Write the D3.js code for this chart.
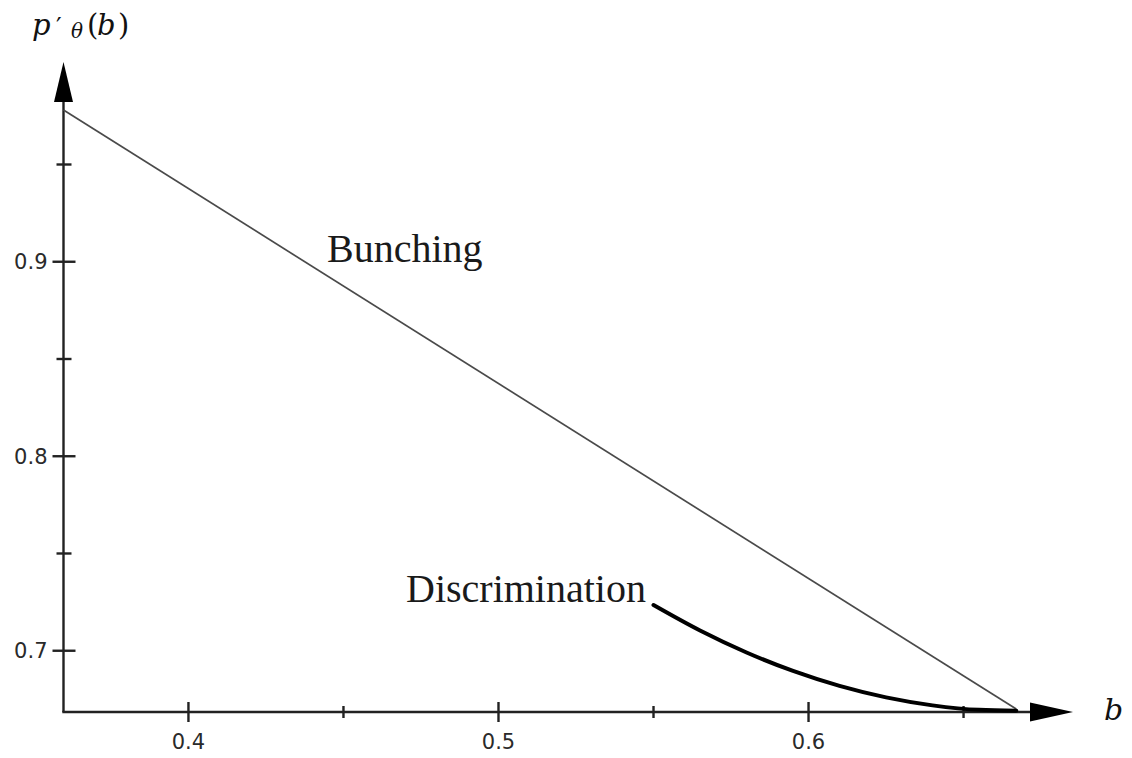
<!DOCTYPE html>
<html>
<head>
<meta charset="utf-8">
<script src="https://cdn.jsdelivr.net/npm/d3@7"></script>
<style>
  body { margin: 0; background: #fff; }
  .tic-label { font-family: 'DejaVu Sans', sans-serif; font-size: 21px; fill: #2a2a2a; }
  .curve-label { font-family: 'Liberation Serif', 'Times New Roman', serif; font-size: 40px; fill: #1a1a1a; }
  .math { font-family: 'DejaVu Serif', serif; font-style: italic; fill: #111; }
</style>
</head>
<body>
<div id="chart"></div>
<script>
/* Data ************************************************************************/

// axis extents (value at the axis origin and at the arrow tips)
var xExtent = [0.3597, 0.6853],
    yExtent = [0.6685, 1.0027];

// tick values and labels
var xMajor = [0.4, 0.5, 0.6],
    xMinor = [0.45, 0.55, 0.65],
    xLabels = ['0.4', '0.5', '0.6'],
    yMajor = [0.7, 0.8, 0.9],
    yMinor = [0.75, 0.85, 0.95],
    yLabels = ['0.7', '0.8', '0.9'];

// bunching: straight line
var bunchB = [0.3597, 0.667],
    bunchP = [0.978, 0.670];

// discrimination
var discB = [0.55, 0.565, 0.58, 0.595, 0.61, 0.625, 0.64, 0.655, 0.667],
    discP = [0.7235, 0.7104, 0.6991, 0.6896, 0.6819, 0.6760, 0.6719, 0.6696, 0.6692];

/* Plot ************************************************************************/

function build_plot()
{
    let width = 1132, height = 758;

    let svg = d3.select('#chart').append('svg')
        .attr('width', width)
        .attr('height', height);

    let x = d3.scaleLinear().domain(xExtent).range([63.5, 1073]),
        y = d3.scaleLinear().domain(yExtent).range([712, 62]),
        line = d3.line();

    let x0 = x(xExtent[0]), y0 = y(yExtent[0]),
        xTip = x(xExtent[1]), yTip = y(yExtent[1]),
        arrowLen = 40, arrowHalf = 9.5,
        axisColor = '#222';

    // axis lines
    svg.append('path')
        .attr('d', line([[x0, y0], [x0, yTip + arrowLen]]))
        .attr('stroke', axisColor).attr('stroke-width', 2.4).attr('fill', 'none');
    svg.append('path')
        .attr('d', line([[x0 - 1.2, y0], [xTip - arrowLen, y0]]))
        .attr('stroke', axisColor).attr('stroke-width', 2.4).attr('fill', 'none');

    // arrow heads
    svg.append('path')
        .attr('d', line([[x0, yTip], [x0 - arrowHalf, yTip + arrowLen], [x0 + arrowHalf, yTip + arrowLen]]) + 'Z')
        .attr('fill', '#000');
    svg.append('path')
        .attr('d', line([[xTip, y0], [xTip - arrowLen - 3, y0 - arrowHalf], [xTip - arrowLen - 3, y0 + arrowHalf]]) + 'Z')
        .attr('fill', '#000');

    // x tics
    svg.selectAll('.xmajor').data(xMajor).enter()
        .append('path')
        .attr('d', v => line([[x(v), y0 - 10], [x(v), y0 + 10]]))
        .attr('stroke', axisColor).attr('stroke-width', 2.4);
    svg.selectAll('.xminor').data(xMinor).enter()
        .append('path')
        .attr('d', v => line([[x(v), y0 - 6], [x(v), y0 + 6]]))
        .attr('stroke', axisColor).attr('stroke-width', 2.4);
    svg.selectAll('.xlab').data(xMajor).enter()
        .append('text')
        .attr('x', v => x(v))
        .attr('y', y0 + 37)
        .attr('text-anchor', 'middle')
        .attr('class', 'tic-label')
        .text((v, i) => xLabels[i]);

    // y tics
    svg.selectAll('.ymajor').data(yMajor).enter()
        .append('path')
        .attr('d', v => line([[x0 - 11, y(v)], [x0 + 12, y(v)]]))
        .attr('stroke', axisColor).attr('stroke-width', 2.4);
    svg.selectAll('.yminor').data(yMinor).enter()
        .append('path')
        .attr('d', v => line([[x0 - 7, y(v)], [x0 + 8, y(v)]]))
        .attr('stroke', axisColor).attr('stroke-width', 2.4);
    svg.selectAll('.ylab').data(yMajor).enter()
        .append('text')
        .attr('x', x0 - 16)
        .attr('y', v => y(v) + 7.5)
        .attr('text-anchor', 'end')
        .attr('class', 'tic-label')
        .text((v, i) => yLabels[i]);

    // bunching line
    svg.append('path')
        .attr('d', line(bunchB.map((b, i) => [x(b), y(bunchP[i])])))
        .attr('stroke', '#4a4a4a').attr('stroke-width', 1.7).attr('fill', 'none');

    // discrimination curve
    svg.append('path')
        .attr('d', d3.line().curve(d3.curveMonotoneX)(discB.map((b, i) => [x(b), y(discP[i])])))
        .attr('stroke', '#000').attr('stroke-width', 4).attr('fill', 'none')
        .attr('stroke-linecap', 'round');

    // curve labels
    svg.append('text')
        .attr('x', 327).attr('y', 262)
        .attr('class', 'curve-label')
        .text('Bunching');
    svg.append('text')
        .attr('x', 406).attr('y', 602)
        .attr('class', 'curve-label')
        .text('Discrimination');

    // axis titles
    svg.append('text')
        .attr('x', 1104).attr('y', 720)
        .attr('class', 'math')
        .attr('font-size', 30)
        .text('b');

    let yt = svg.append('text')
        .attr('y', 35)
        .attr('class', 'math')
        .attr('font-size', 29);
    yt.append('tspan').attr('x', 32).text('p');
    yt.append('tspan').attr('x', 56).attr('font-style', 'normal').attr('font-family', 'DejaVu Sans').attr('font-size', 25).text('\u2032');
    yt.append('tspan').attr('x', 71).attr('dy', 3).attr('font-size', 20).text('θ');
    yt.append('tspan').attr('x', 87).attr('dy', -3).attr('font-style', 'normal').text('(');
    yt.append('tspan').attr('x', 97).text('b');
    yt.append('tspan').attr('x', 118).attr('font-style', 'normal').text(')');
}

build_plot();
</script>
</body>
</html>
